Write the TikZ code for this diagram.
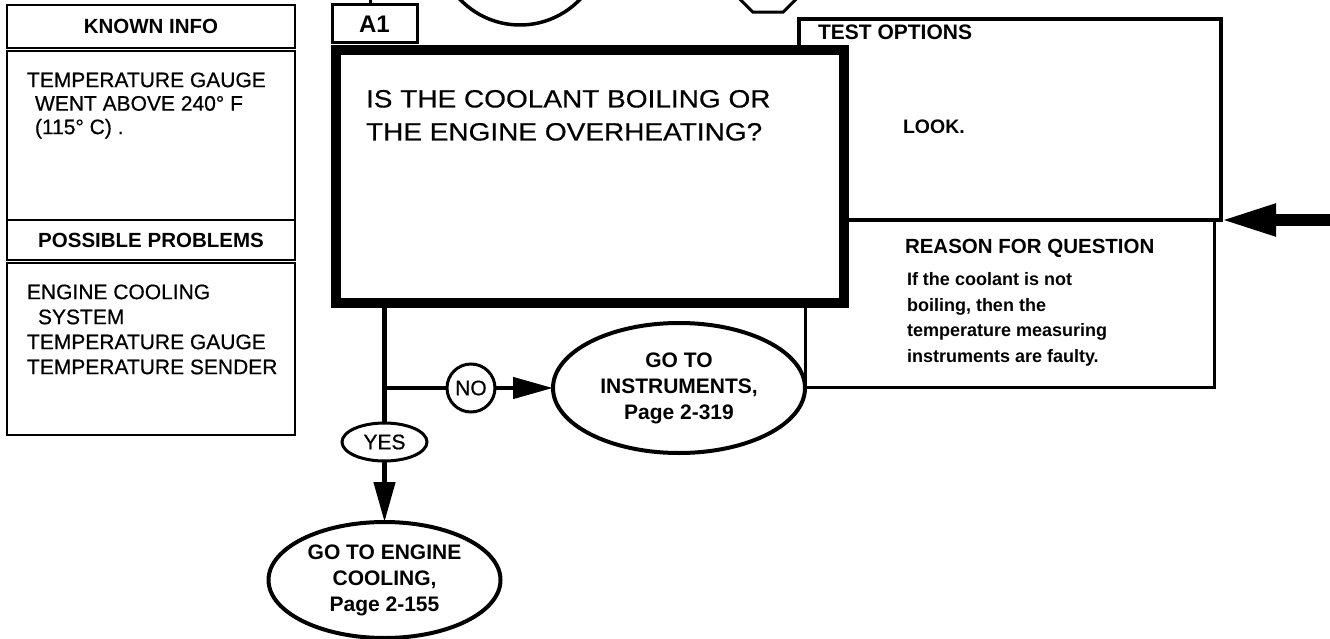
\documentclass[tikz,border=0pt]{standalone}
\usepackage{fontspec}
\setmainfont{Liberation Sans}
\newfontfamily\medfont{Liberation Sans}[FakeBold=0.6]
\newfontfamily\qfont{Liberation Sans}[FakeStretch=1.12,FakeBold=0.5]
\usetikzlibrary{arrows.meta,shapes.geometric}
\begin{document}
\begin{tikzpicture}[x=1pt,y=-1pt,
  every node/.style={outer sep=0pt},
  panel/.style={draw, line width=2.5pt, anchor=north west, inner sep=0pt},
  hdr/.style={font=\bfseries\fontsize{20.5}{24}\selectfont},
  txt/.style={inner sep=0pt, anchor=north west, align=left},
  conn/.style={line width=4.5pt},
  arr/.style={conn, -{Triangle[length=40pt,width=21pt]}},
  oval/.style={draw, ellipse, line width=4pt, fill=white, inner sep=0pt, align=center, font=\bfseries\fontsize{21}{26}\selectfont},
  lbl/.style={draw, ellipse, line width=3pt, fill=white, inner sep=0pt, font=\medfont\fontsize{21}{24}\selectfont},
]
\useasboundingbox (0,0) rectangle (1330,639);
\clip (0,0) rectangle (1330,639);

% partial shapes at the top edge
\node[draw, circle, line width=3.5pt, minimum size=166pt] (topc) at (520,-58) {};
\draw[line width=3pt] (804.2,-9) -- (783,12.2) -- (753,12.2) -- (731.8,-9) -- (731.8,-39) -- (753,-60.2) -- (783,-60.2) -- (804.2,-39) -- cycle;

% left panel
\node[panel, hdr, minimum width=288pt, minimum height=43pt] (kih) at (7,5) {KNOWN INFO};
\node[panel, minimum width=288pt, minimum height=169pt] (kib) at (7,51) {};
\node[txt, font=\medfont\fontsize{21}{23.5}\selectfont] (kit) at (27,72.5) {TEMPERATURE GAUGE\\\hspace*{8pt}WENT ABOVE 240° F\\\hspace*{8pt}(115° C) .};
\node[panel, hdr, minimum width=288pt, minimum height=40pt] (pph) at (7,220) {POSSIBLE PROBLEMS};
\node[panel, minimum width=288pt, minimum height=172pt] (ppb) at (7,263) {};
\node[txt, font=\medfont\fontsize{21}{25}\selectfont] (ppt) at (27,284.5) {ENGINE COOLING\\\hspace*{11pt}SYSTEM\\TEMPERATURE GAUGE\\TEMPERATURE SENDER};

% test options and reason boxes (behind the question box)
\node[draw, line width=4pt, anchor=north west, minimum width=422pt, minimum height=201pt] (test) at (799,19) {};
\node[draw, line width=3pt, anchor=north west, minimum width=409pt, minimum height=167pt] (reason) at (805,220) {};
\node[txt, font=\bfseries\fontsize{21}{24}\selectfont] (testh) at (818,25) {TEST OPTIONS};
\node[txt, font=\bfseries\fontsize{19.5}{24}\selectfont] (look) at (903,120) {LOOK.};
\node[txt, font=\bfseries\fontsize{20.5}{24}\selectfont] (rsh) at (905,239) {REASON FOR QUESTION};
\node[txt, font=\bfseries\fontsize{18}{25.5}\selectfont] (rst) at (907,272.5) {If the coolant is not\\boiling, then the\\temperature measuring\\instruments are faulty.};

% question box
\node[draw, line width=10pt, fill=white, anchor=north west, minimum width=508pt, minimum height=253pt] (q) at (336,50) {};
\node[txt, font=\qfont\fontsize{25}{33}\selectfont] (qt) at (366,90) {IS THE COOLANT BOILING OR\\THE ENGINE OVERHEATING?};
\node[draw, line width=3pt, anchor=north west, minimum width=85pt, minimum height=38pt, font=\bfseries\fontsize{24}{28}\selectfont] (a1) at (332,5) {A1};
\coordinate (a1in) at (370,0);
\draw[line width=3pt] (a1in) -- (a1in |- a1.north);

% answers
\node[lbl, minimum width=85pt, minimum height=38pt] (yes) at (384.5,442) {YES};
\node[lbl, circle, minimum size=48pt] (no) at (471,388) {NO};
\node[oval, minimum width=252pt, minimum height=130pt] (instr) at (679,388) {GO TO\\INSTRUMENTS,\\Page 2-319};
\node[oval, minimum width=232pt, minimum height=116pt] (eng) at (384.5,580) {GO TO ENGINE\\COOLING,\\Page 2-155};

\draw[conn] (q.south -| yes.north) -- (yes.north);
\draw[conn] (yes.north |- no.west) -- (no.west);
\draw[arr] (no.east) -- (instr.west);
\draw[arr] (yes.south) -- (eng.north);

% incoming arrow on the right
\coordinate (rin) at (1335,220);
\draw[line width=11pt, -{Triangle[length=55pt,width=30pt]}] (rin) -- (test.south east);
\end{tikzpicture}
\end{document}
